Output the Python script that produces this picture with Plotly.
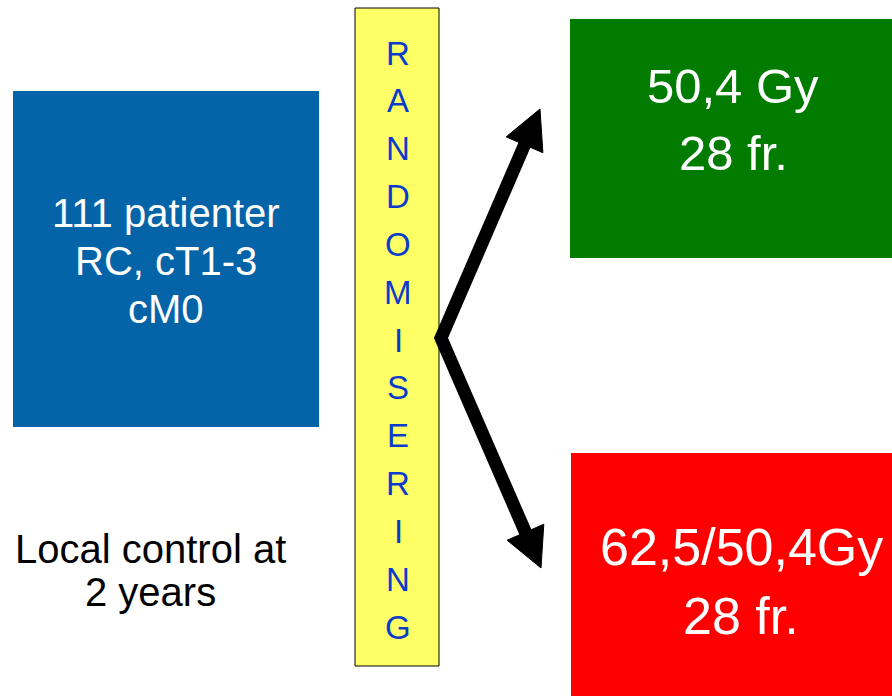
import math
import plotly.graph_objects as go

W, H = 892, 696

# ---- content ----
box_colors = ["#0563A8", "#017C01", "#FF0000"]
box_x0 = [13, 570, 571]
box_x1 = [319, 892, 892]
box_y0 = [91, 19, 453]
box_y1 = [427, 258, 696]

patient_lines = ["111 patienter", "RC, cT1-3", "cM0"]
patient_y = [213, 261, 309]
arm_a_lines = ["50,4 Gy", "28 fr."]
arm_a_y = [86, 153]
arm_b_lines = ["62,5/50,4Gy", "28 fr."]
arm_b_y = [547, 616]
endpoint_lines = ["Local control at", "2 years"]
endpoint_y = [549, 592]

rand_word = "RANDOMISERING"
rand_y_first, rand_y_last = 53, 627

arrow_vertex = (441, 338)
arrow_tips = [(540, 109), (541, 568)]

FONT = "Liberation Sans, Arial, sans-serif"

fig = go.Figure()

for col, x0, x1, y0, y1 in zip(box_colors, box_x0, box_x1, box_y0, box_y1):
    fig.add_shape(type="rect", x0=x0, x1=x1, y0=y0, y1=y1, fillcolor=col,
                  line=dict(width=0), layer="below")


def add_lines(lines, ys, cx, size, color):
    for t, y in zip(lines, ys):
        fig.add_annotation(x=cx, y=y, text=t, showarrow=False,
                           font=dict(family=FONT, size=size, color=color),
                           xanchor="center", yanchor="middle")


add_lines(patient_lines, patient_y, 166, 40, "white")
add_lines(arm_a_lines, arm_a_y, 733, 49, "white")
add_lines(arm_b_lines, arm_b_y, 741, 52, "white")
add_lines(endpoint_lines, endpoint_y, 150, 40, "black")

# randomisation bar
fig.add_shape(type="rect", x0=355, x1=439, y0=8, y1=666, fillcolor="#FFFF66",
              line=dict(color="black", width=1))
n = len(rand_word)
for i, ch in enumerate(rand_word):
    y = rand_y_first + (rand_y_last - rand_y_first) * i / (n - 1)
    fig.add_annotation(x=398, y=y, text=ch, showarrow=False,
                       font=dict(family=FONT, size=33, color="#0A3CCC"),
                       xanchor="center", yanchor="middle")

# arrows
vx, vy = arrow_vertex
bases = []
heads = []
for tx, ty in arrow_tips:
    dx, dy = tx - vx, ty - vy
    L = math.hypot(dx, dy)
    ux, uy = dx / L, dy / L
    nx, ny = -uy, ux
    hl, hw = 39, 20
    bx, by = tx - hl * ux, ty - hl * uy
    bases.append((bx + 4 * ux, by + 4 * uy))
    heads.append(f"M {tx},{ty} L {bx + hw * nx},{by + hw * ny} L {bx - hw * nx},{by - hw * ny} Z")

(b1x, b1y), (b2x, b2y) = bases
fig.add_shape(type="path", path=f"M {b1x},{b1y} L {vx},{vy} L {b2x},{b2y}",
              fillcolor="rgba(0,0,0,0)", line=dict(color="black", width=13))
for p in heads:
    fig.add_shape(type="path", path=p, fillcolor="black", line=dict(color="black", width=1))

fig.update_xaxes(range=[0, W], visible=False, fixedrange=True)
fig.update_yaxes(range=[H, 0], visible=False, fixedrange=True)
fig.update_layout(width=W, height=H, margin=dict(l=0, r=0, t=0, b=0),
                  plot_bgcolor="white", paper_bgcolor="white", showlegend=False)

fig.write_html("out.html", config={"displayModeBar": False},
               post_script="document.body.style.margin='0';document.body.style.overflow='hidden';")
